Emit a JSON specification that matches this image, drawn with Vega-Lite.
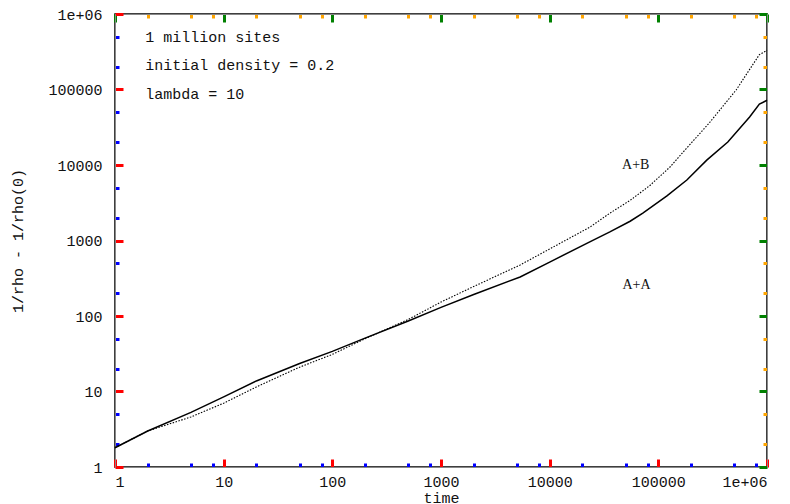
{
  "$schema": "https://vega.github.io/schema/vega-lite/v6.json",
  "width": 652,
  "height": 453,
  "autosize": {"type": "none"},
  "padding": {"left": 115, "top": 14, "right": 23, "bottom": 37},
  "background": "white",
  "config": {
    "view": {"stroke": "black", "strokeWidth": 1.5},
    "axis": {
      "grid": false,
      "labelColor": "#111",
      "titleColor": "#111",
      "labelFont": "Liberation Mono",
      "titleFont": "Liberation Mono",
      "labelFontSize": 15,
      "titleFontSize": 15,
      "titleFontWeight": "normal"
    }
  },
  "datasets": {
    "aa": [
      {"t": 1, "v": 1.8}, {"t": 2, "v": 3.0}, {"t": 5, "v": 5.3}, {"t": 10, "v": 8.5},
      {"t": 20, "v": 13.8}, {"t": 50, "v": 23.5}, {"t": 100, "v": 34}, {"t": 200, "v": 51},
      {"t": 500, "v": 86}, {"t": 1000, "v": 130}, {"t": 2000, "v": 193}, {"t": 5350, "v": 329},
      {"t": 10000, "v": 518}, {"t": 23400, "v": 960}, {"t": 35800, "v": 1300}, {"t": 55000, "v": 1800},
      {"t": 72000, "v": 2310}, {"t": 120000, "v": 3900}, {"t": 183000, "v": 6320}, {"t": 279000, "v": 11600}, {"t": 436000, "v": 20200},
      {"t": 692000, "v": 43200}, {"t": 851000, "v": 64000}, {"t": 1000000, "v": 72000}
    ],
    "ab": [
      {"t": 1, "v": 1.8}, {"t": 2, "v": 3.0}, {"t": 5, "v": 4.6}, {"t": 10, "v": 7.0},
      {"t": 20, "v": 11.5}, {"t": 50, "v": 21}, {"t": 100, "v": 31}, {"t": 200, "v": 50},
      {"t": 500, "v": 90}, {"t": 1000, "v": 153}, {"t": 2000, "v": 246}, {"t": 5350, "v": 474},
      {"t": 10000, "v": 773}, {"t": 23400, "v": 1500}, {"t": 35800, "v": 2300}, {"t": 55000, "v": 3400},
      {"t": 83000, "v": 5300}, {"t": 128000, "v": 9400}, {"t": 166000, "v": 14400}, {"t": 294000, "v": 36000},
      {"t": 520000, "v": 98500}, {"t": 851000, "v": 290000}, {"t": 1000000, "v": 330000}
    ],
    "notes": [
      {"t": 1.9, "v": 495000, "label": "1 million sites"},
      {"t": 1.9, "v": 211000, "label": "initial density = 0.2"},
      {"t": 1.9, "v": 87500, "label": "lambda = 10"}
    ],
    "tags": [
      {"t": 62000, "v": 10000, "label": "A+B"},
      {"t": 63000, "v": 258, "label": "A+A"}
    ]
  },
  "layer": [
    {
      "data": {"name": "aa"},
      "mark": {"type": "line", "color": "black", "strokeWidth": 1.5},
      "encoding": {
        "x": {
          "field": "t", "type": "quantitative",
          "scale": {"type": "log", "domain": [1, 1000000], "nice": false},
          "axis": {
            "orient": "bottom", "title": "time", "titlePadding": 1,
            "values": [1, 10, 100, 1000, 10000, 100000, 1000000],
            "tickSize": -8, "tickColor": "red", "tickWidth": 3, "labelPadding": 15,
            "labelExpr": "datum.value == 1000000 ? '1e+06' : format(datum.value, 'd')"
          }
        },
        "y": {
          "field": "v", "type": "quantitative",
          "scale": {"type": "log", "domain": [1, 1000000], "nice": false},
          "axis": {
            "orient": "left", "title": "1/rho - 1/rho(0)", "titlePadding": 22,
            "values": [1, 10, 100, 1000, 10000, 100000, 1000000],
            "tickSize": -8, "tickColor": "red", "tickWidth": 3, "labelPadding": 21,
            "labelExpr": "datum.value == 1000000 ? '1e+06' : format(datum.value, 'd')"
          }
        }
      }
    },
    {
      "data": {"name": "ab"},
      "mark": {"type": "line", "color": "black", "strokeWidth": 1.1, "strokeDash": [1.5, 1.5]},
      "encoding": {
        "x": {
          "field": "t", "type": "quantitative",
          "scale": {"type": "log", "domain": [1, 1000000], "nice": false},
          "axis": {
            "orient": "bottom", "title": null, "labels": false,
            "tickSize": -4, "tickColor": "blue", "tickWidth": 3,
            "values": [2, 5, 8, 20, 50, 80, 200, 500, 800, 2000, 5000, 8000, 20000, 50000, 80000, 200000, 500000, 800000]
          }
        },
        "y": {
          "field": "v", "type": "quantitative",
          "scale": {"type": "log", "domain": [1, 1000000], "nice": false},
          "axis": {
            "orient": "left", "title": null, "labels": false,
            "tickSize": -4, "tickColor": "blue", "tickWidth": 3,
            "values": [2, 5, 20, 50, 200, 500, 2000, 5000, 20000, 50000, 200000, 500000]
          }
        }
      }
    },
    {
      "data": {"name": "notes"},
      "mark": {"type": "text", "align": "left", "baseline": "middle", "font": "Liberation Mono", "fontSize": 15, "color": "#111"},
      "encoding": {
        "text": {"field": "label"},
        "x": {
          "field": "t", "type": "quantitative",
          "scale": {"type": "log", "domain": [1, 1000000], "nice": false},
          "axis": {
            "orient": "top", "title": null, "labels": false,
            "tickSize": -8, "tickColor": "green", "tickWidth": 3,
            "values": [1, 10, 100, 1000, 10000, 100000, 1000000]
          }
        },
        "y": {
          "field": "v", "type": "quantitative",
          "scale": {"type": "log", "domain": [1, 1000000], "nice": false},
          "axis": {
            "orient": "right", "title": null, "labels": false,
            "tickSize": -8, "tickColor": "green", "tickWidth": 3,
            "values": [1, 10, 100, 1000, 10000, 100000, 1000000]
          }
        }
      }
    },
    {
      "data": {"name": "tags"},
      "mark": {"type": "text", "align": "center", "baseline": "middle", "font": "Liberation Serif", "fontSize": 14, "color": "#111"},
      "encoding": {
        "text": {"field": "label"},
        "x": {
          "field": "t", "type": "quantitative",
          "scale": {"type": "log", "domain": [1, 1000000], "nice": false},
          "axis": {
            "orient": "top", "title": null, "labels": false,
            "tickSize": -4, "tickColor": "orange", "tickWidth": 3,
            "values": [2, 5, 8, 20, 50, 80, 200, 500, 800, 2000, 5000, 8000, 20000, 50000, 80000, 200000, 500000, 800000]
          }
        },
        "y": {
          "field": "v", "type": "quantitative",
          "scale": {"type": "log", "domain": [1, 1000000], "nice": false},
          "axis": {
            "orient": "right", "title": null, "labels": false,
            "tickSize": -4, "tickColor": "orange", "tickWidth": 3,
            "values": [2, 5, 20, 50, 200, 500, 2000, 5000, 20000, 50000, 200000, 500000]
          }
        }
      }
    }
  ],
  "resolve": {"axis": {"x": "independent", "y": "independent"}}
}
